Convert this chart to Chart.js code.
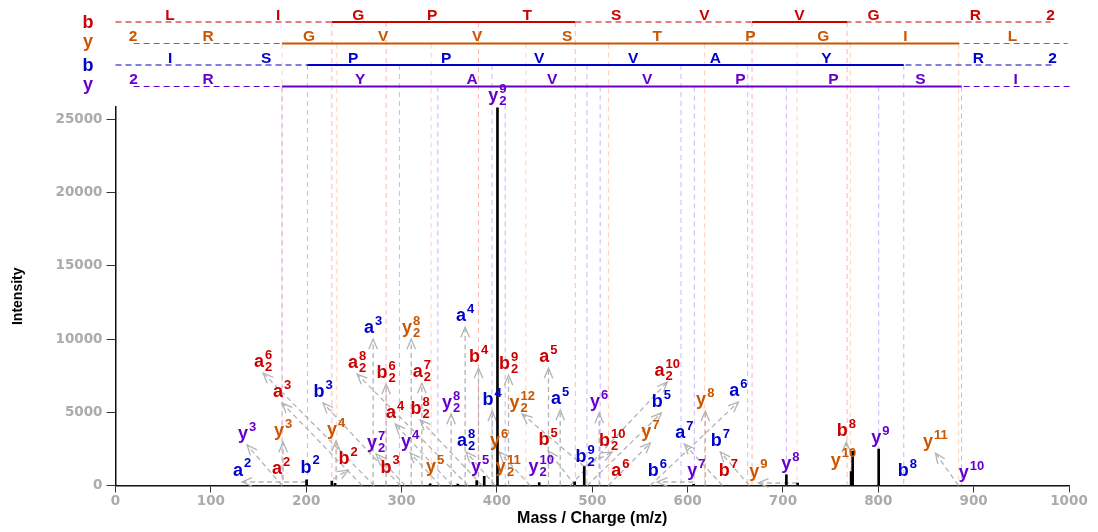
<!DOCTYPE html>
<html lang="en">
<head>
<meta charset="UTF-8">
<title>Annotated MS/MS spectrum</title>
<style>
    body { margin: 0; background: #fff; }
    #chart-container { width: 1098px; height: 532px; position: relative; }
</style>
</head>
<body>
<div id="chart-container"><canvas id="spectrumChart"></canvas></div>
<script src="https://cdn.jsdelivr.net/npm/chart.js"></script>
<script>
// axis ticks
const xTicks = [0, 100, 200, 300, 400, 500, 600, 700, 800, 900, 1000];
const yTicks = [0, 5000, 10000, 15000, 20000, 25000];

// observed peaks (m/z, intensity)
const peakMz = [200.4, 226.9, 230.3, 330.0, 359.0, 378.8, 386.7, 400.6, 444.4, 481.6, 491.6, 606.3, 703.6, 715.4, 771.5, 773.1, 800.4];
const peakIntensity = [380, 300, 150, 120, 100, 340, 620, 25800, 200, 250, 1300, 80, 730, 170, 950, 2350, 2480];

// the four ion ladders: red b, orange y, blue b, purple y
const seriesColors = ['#cc0000', '#cc5500', '#0000cc', '#6600cc'];
const guideColors = ['rgba(255,90,90,0.45)', 'rgba(255,150,90,0.45)', 'rgba(110,110,255,0.45)', 'rgba(150,100,255,0.5)'];
const rowNames = ['b', 'y', 'b', 'y'];
const rowSpan = [[0, 980.6], [19, 998.6], [0, 983.5], [19, 1001.6]];
const rowMatched = [
    [[226.9, 482.2], [667.6, 767.3]],
    [[174.7, 884.4]],
    [[201.3, 826.7]],
    [[174.7, 887.3]]
];
const rowLetters = [
    ['L', 'I', 'G', 'P', 'T', 'S', 'V', 'V', 'G', 'R', '2'],
    ['2', 'R', 'G', 'V', 'V', 'S', 'T', 'P', 'G', 'I', 'L'],
    ['I', 'S', 'P', 'P', 'V', 'V', 'A', 'Y', 'R', '2'],
    ['2', 'R', 'Y', 'A', 'V', 'V', 'P', 'P', 'S', 'I']
];
const rowLetterMz = [
    [57.2, 170.5, 254.5, 332.1, 431.8, 525.2, 617.6, 717.2, 794.9, 901.9, 980.6],
    [18.4, 97.0, 203.0, 280.7, 379.3, 473.8, 568.2, 665.8, 742.4, 828.4, 940.7],
    [57.2, 158.0, 249.2, 346.8, 444.4, 543.0, 629.0, 745.5, 905.0, 982.7],
    [19.0, 97.0, 256.6, 374.1, 458.0, 557.7, 655.3, 752.9, 844.2, 944.0]
];
// matched fragment positions (vertical guide lines)
const rowIonMz = [
    [226.9, 283.8, 380.7, 482.2, 667.6, 767.3],
    [174.7, 232.1, 331.1, 430.4, 517.1, 617.8, 714.8, 770.7, 884.4],
    [201.3, 297.8, 394.8, 494.4, 593.1, 663.0, 826.7],
    [174.7, 338.1, 408.7, 508.3, 607.1, 703.5, 800.4, 887.3]
];

// peak annotations: name, ladder, label anchor (m/z, intensity), arrow start (m/z, intensity)
const labelName = ['a^2', 'a^2', 'b^2', 'y^3', 'y^3', 'a^3', 'a_2^6', 'b^3', 'y^4', 'b^2',
    'y_2^7', 'b^3', 'a^3', 'a_2^8', 'b_2^6', 'a^4', 'y_2^8', 'a_2^7', 'b_2^8', 'y^4',
    'y^5', 'a^4', 'y_2^8', 'a_2^8', 'y^5', 'b^4', 'b^4', 'y_2^9', 'y^6', 'y_2^11',
    'b_2^9', 'y_2^12', 'y_2^10', 'b^5', 'a^5', 'a^5', 'b_2^9', 'y^6', 'b_2^10', 'a^6',
    'y^7', 'b^6', 'b^5', 'a_2^10', 'a^7', 'y^7', 'y^8', 'b^7', 'b^7', 'a^6',
    'y^9', 'y^8', 'y^10', 'b^8', 'y^9', 'b^8', 'y^11', 'y^10'];
const labelRow = [2, 0, 2, 3, 1, 0, 0, 2, 1, 0,
    3, 0, 2, 0, 0, 0, 1, 0, 0, 3,
    1, 2, 3, 2, 3, 0, 2, 3, 1, 1,
    0, 1, 3, 0, 0, 2, 2, 3, 0, 0,
    1, 2, 2, 0, 2, 3, 1, 2, 0, 2,
    1, 3, 1, 0, 3, 2, 1, 3];
const labelMz = [132.7, 173.7, 204.1, 138.0, 175.8, 174.7, 154.8, 217.7, 231.3, 244.0,
    273.3, 288.0, 270.2, 253.4, 283.8, 293.3, 310.1, 321.3, 319.5, 309.0,
    335.3, 366.7, 352.0, 367.8, 382.5, 380.7, 395.1, 400.4, 402.4, 411.9,
    412.2, 426.5, 446.5, 453.8, 454.1, 466.4, 492.6, 507.3, 521.0, 529.4,
    560.9, 568.2, 572.4, 578.7, 596.6, 609.1, 618.5, 634.3, 642.7, 653.2,
    674.2, 707.8, 763.4, 766.5, 802.2, 830.4, 859.9, 897.7];
const labelInt = [240, 375, 444, 2765, 2969, 5632, 7679, 5632, 3038, 1058,
    2150, 444, 10000, 7611, 6928, 4198, 10000, 6997, 4471, 2218,
    512, 10819, 4881, 2287, 512, 8021, 5085, 25830, 2287, 512,
    7543, 4881, 512, 2355, 8021, 5154, 1195, 4949, 2287, 239,
    2901, 239, 4949, 7065, 2833, 239, 5085, 2287, 239, 5700,
    171, 717, 922, 2969, 2492, 239, 2218, 102];
const arrowMz = [199.9, null, null, 174.7, 175.8, 258.5, 271.3, 298.5, 231.3, 228.2,
    303.8, null, 270.2, 369.8, 283.8, 353.1, 310.1, 321.3, 384.6, 340.5,
    null, 366.7, 352.0, 398.2, null, 380.7, 395.1, null, 434.9, null,
    412.2, 491.6, null, 482.2, 454.1, 466.4, null, 507.3, 491.6, null,
    516.8, 606.0, 494.8, 476.9, 636.4, null, 618.5, 664.7, null, 560.9,
    715.1, null, null, 766.5, null, null, 884.0, null];
const arrowInt = [240, null, null, 0, 375, 0, 0, 0, 375, 444,
    0, null, 0, 0, 0, 0, 0, 0, 0, 0,
    null, 0, 0, 0, null, 0, 0, null, 0, null,
    0, 1300, null, 0, 0, 0, null, 0, 1300, null,
    0, 239, 0, 0, 0, null, 0, 0, null, 0,
    171, null, null, 2082, null, null, 0, null];

const rowY = [22, 43.5, 65, 86.5];
const textFont = '"Liberation Sans", Arial, sans-serif';

function drawArrow(ctx, x1, y1, x2, y2) {
    const len = Math.hypot(x2 - x1, y2 - y1);
    if (len < 10) return;
    ctx.setLineDash([5, 3.5]);
    ctx.beginPath();
    ctx.moveTo(x1, y1);
    ctx.lineTo(x2, y2);
    ctx.stroke();
    ctx.setLineDash([]);
    const ang = Math.atan2(y2 - y1, x2 - x1);
    const h = 11, spread = 0.4;
    ctx.beginPath();
    ctx.moveTo(x2 - h * Math.cos(ang - spread), y2 - h * Math.sin(ang - spread));
    ctx.lineTo(x2, y2);
    ctx.lineTo(x2 - h * Math.cos(ang + spread), y2 - h * Math.sin(ang + spread));
    ctx.stroke();
}

function drawIonLabel(ctx, name, color, cx, cy) {
    const m = name.match(/^([a-z])(?:_(\d+))?(?:\^(\d+))?$/);
    const base = m[1], sub = m[2] || '', sup = m[3] || '';
    const big = 'bold 18px ' + textFont;
    const small = 'bold 13px ' + textFont;
    ctx.font = big;
    const wb = ctx.measureText(base).width;
    ctx.font = small;
    const ws = Math.max(ctx.measureText(sub).width, ctx.measureText(sup).width);
    const left = cx - (wb + 1 + ws) / 2;
    const baseline = cy + 6;
    ctx.fillStyle = color;
    ctx.textAlign = 'left';
    ctx.textBaseline = 'alphabetic';
    ctx.font = big;
    ctx.fillText(base, left, baseline);
    ctx.font = small;
    if (sup) ctx.fillText(sup, left + wb + 1, baseline - 8.5);
    if (sub) ctx.fillText(sub, left + wb + 1, baseline + 4);
}

const annotationPlugin = {
    id: 'annotations',
    beforeDatasetsDraw(chart) {
        const {ctx, scales: {x, y}} = chart;
        const y0 = y.getPixelForValue(0);
        ctx.save();

        // vertical guides from each ladder row down to the axis
        ctx.lineWidth = 1;
        ctx.setLineDash([5, 4]);
        rowIonMz.forEach((list, r) => {
            ctx.strokeStyle = guideColors[r];
            list.forEach(mz => {
                const px = x.getPixelForValue(mz);
                ctx.beginPath();
                ctx.moveTo(px, rowY[r]);
                ctx.lineTo(px, y0);
                ctx.stroke();
            });
        });

        // ladders
        rowNames.forEach((nm, r) => {
            const yr = rowY[r];
            ctx.strokeStyle = seriesColors[r];
            ctx.lineWidth = 1.2;
            ctx.setLineDash([6, 4]);
            ctx.beginPath();
            ctx.moveTo(x.getPixelForValue(rowSpan[r][0]), yr);
            ctx.lineTo(x.getPixelForValue(rowSpan[r][1]), yr);
            ctx.stroke();
            ctx.setLineDash([]);
            ctx.lineWidth = 1.8;
            rowMatched[r].forEach(seg => {
                ctx.beginPath();
                ctx.moveTo(x.getPixelForValue(seg[0]), yr);
                ctx.lineTo(x.getPixelForValue(seg[1]), yr);
                ctx.stroke();
            });
            ctx.fillStyle = seriesColors[r];
            ctx.textAlign = 'center';
            ctx.textBaseline = 'alphabetic';
            ctx.font = 'bold 15.5px ' + textFont;
            rowLetters[r].forEach((ch, i) => {
                ctx.fillText(ch, x.getPixelForValue(rowLetterMz[r][i]), yr - 2.5);
            });
            ctx.font = 'bold 18px ' + textFont;
            ctx.fillText(nm, 88, nm === 'b' ? yr + 6 : yr + 3);
        });

        // arrows from fragment to its label
        ctx.strokeStyle = '#b3b3b3';
        ctx.lineWidth = 1.3;
        labelName.forEach((nm, i) => {
            if (arrowMz[i] === null) return;
            drawArrow(ctx,
                x.getPixelForValue(arrowMz[i]), y.getPixelForValue(arrowInt[i]),
                x.getPixelForValue(labelMz[i]), y.getPixelForValue(labelInt[i]));
        });
        ctx.restore();
    },
    afterDatasetsDraw(chart) {
        const {ctx, scales: {x, y}} = chart;
        ctx.save();
        labelName.forEach((nm, i) => {
            drawIonLabel(ctx, nm, seriesColors[labelRow[i]],
                x.getPixelForValue(labelMz[i]), y.getPixelForValue(labelInt[i]) - 12);
        });
        ctx.restore();
    }
};

const tickFont = {family: '"DejaVu Sans", sans-serif', weight: 'bold', size: 13.5};

const ctx = document.getElementById('spectrumChart').getContext('2d');
const spectrumChart = new Chart(ctx, {
    type: 'bar',
    data: {
        datasets: [{
            data: peakMz.map((mz, i) => ({x: mz, y: peakIntensity[i]})),
            backgroundColor: '#000',
            borderWidth: 0,
            barThickness: 2
        }]
    },
    options: {
        responsive: true,
        maintainAspectRatio: false,
        animation: false,
        layout: {padding: {top: 107, right: 29, bottom: 0, left: 0}},
        plugins: {legend: {display: false}, tooltip: {enabled: false}},
        scales: {
            x: {
                type: 'linear',
                min: 0,
                max: 1000,
                offset: false,
                afterBuildTicks: s => { s.ticks = xTicks.map(v => ({value: v})); },
                afterFit: s => { s.height = 46.5; },
                border: {display: true, color: '#111', width: 1.5},
                grid: {drawOnChartArea: false, drawTicks: true, tickLength: 7, tickColor: '#333', offset: false},
                ticks: {color: '#ababab', font: tickFont, padding: 1, maxRotation: 0, autoSkip: false,
                    callback: v => String(v)},
                title: {
                    display: true,
                    text: 'Mass / Charge (m/z)',
                    color: '#000',
                    font: {family: textFont, weight: 'bold', size: 16},
                    padding: {top: 0, bottom: 3.5}
                }
            },
            y: {
                min: 0,
                max: 25850,
                afterBuildTicks: s => { s.ticks = yTicks.map(v => ({value: v})); },
                afterFit: s => { s.width = 115.5; },
                border: {display: true, color: '#111', width: 1.5},
                grid: {drawOnChartArea: false, drawTicks: true, tickLength: 9, tickColor: '#333'},
                ticks: {color: '#ababab', font: tickFont, padding: 4, callback: v => String(v)},
                title: {
                    display: true,
                    text: 'Intensity',
                    color: '#000',
                    font: {family: textFont, weight: 'bold', size: 14},
                    padding: {top: 10, bottom: 0}
                }
            }
        }
    },
    plugins: [annotationPlugin]
});
</script>
</body>
</html>
